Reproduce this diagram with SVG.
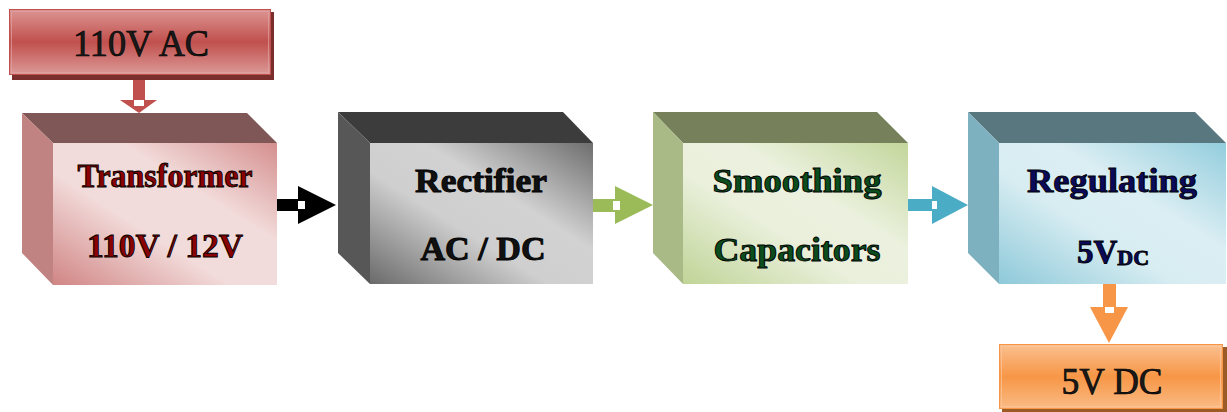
<svg xmlns="http://www.w3.org/2000/svg" width="1227" height="412" viewBox="0 0 1227 412">
<defs>
<linearGradient id="gRed" x1="0" y1="0" x2="0" y2="1">
<stop offset="0" stop-color="#dc9593"/><stop offset="0.5" stop-color="#c0504d"/><stop offset="1" stop-color="#dc9a98"/>
</linearGradient>
<linearGradient id="gOrange" x1="0" y1="0" x2="0" y2="1">
<stop offset="0" stop-color="#fac090"/><stop offset="0.5" stop-color="#f79646"/><stop offset="1" stop-color="#fabb85"/>
</linearGradient>
<linearGradient id="fPink" x1="1" y1="0" x2="0" y2="1">
<stop offset="0" stop-color="#d48f8e"/><stop offset="0.35" stop-color="#f2dcdb"/><stop offset="0.6" stop-color="#f2dcdb"/><stop offset="1" stop-color="#d08584"/>
</linearGradient>
<linearGradient id="fGray" x1="1" y1="0" x2="0" y2="1">
<stop offset="0" stop-color="#6e6e6e"/><stop offset="0.38" stop-color="#d2d2d2"/><stop offset="0.6" stop-color="#cfcfcf"/><stop offset="1" stop-color="#6a6a6a"/>
</linearGradient>
<linearGradient id="fGreen" x1="1" y1="0" x2="0" y2="1">
<stop offset="0" stop-color="#c3d69b"/><stop offset="0.38" stop-color="#ebf1de"/><stop offset="0.6" stop-color="#eaf0dc"/><stop offset="1" stop-color="#c0d497"/>
</linearGradient>
<linearGradient id="fBlue" x1="1" y1="0" x2="0" y2="1">
<stop offset="0" stop-color="#93cddd"/><stop offset="0.38" stop-color="#dbeef3"/><stop offset="0.6" stop-color="#d8edf2"/><stop offset="1" stop-color="#8ec9da"/>
</linearGradient>
</defs>
<style>
.lbl{font-family:"Liberation Serif","DejaVu Serif",serif;font-weight:bold;font-size:33px;text-anchor:middle;stroke:#000;stroke-width:0.9}
.big{font-family:"Liberation Serif","DejaVu Serif",serif;font-size:37px;text-anchor:middle;fill:#1a1a1a;stroke:#000;stroke-width:0.7}
.hole{fill:#ffffff}
</style>

<g id="connectors">
<g id="arrow-ac-transformer" fill="#c0504d">
<rect x="133" y="77" width="12" height="23"/>
<polygon points="120,100 157,100 139,113"/>
<rect class="hole" x="134" y="100" width="10" height="6"/>
</g>
<g id="arrow-transformer-rectifier" fill="#000000">
<rect x="277" y="199" width="21" height="12"/>
<polygon points="298,186 298,224 336,205"/>
<rect class="hole" x="298" y="201" width="7" height="8"/>
</g>
<g id="arrow-rectifier-smoothing" fill="#9bbb59">
<rect x="593" y="199" width="22" height="13"/>
<polygon points="615,186 615,224 653,205"/>
<rect class="hole" x="613" y="201" width="7" height="9"/>
</g>
<g id="arrow-smoothing-regulating" fill="#4bacc6">
<rect x="908" y="199" width="24" height="12"/>
<polygon points="932,186 932,224 968,205"/>
<rect class="hole" x="932" y="201" width="5" height="8"/>
</g>
<g id="arrow-regulating-out" fill="#f79646">
<rect x="1103" y="284" width="13" height="23"/>
<polygon points="1090,307 1128,307 1109,343"/>
<rect class="hole" x="1105" y="307" width="9" height="6"/>
</g>
</g>

<g id="node-110vac">
<rect x="12" y="12" width="262" height="68" fill="#7a2f2d"/>
<rect x="9.5" y="9.5" width="261" height="65" fill="url(#gRed)" stroke="#c0504d" stroke-width="1"/>
<rect x="11.5" y="11.5" width="257" height="61" fill="none" stroke="#e0a3a1" stroke-width="1" opacity="0.7"/>
<text class="big" x="141" y="56" textLength="136" lengthAdjust="spacingAndGlyphs">110V AC</text>
</g>

<g id="node-transformer">
<polygon points="22,113 247,113 277,143 53,143" fill="#7f5756"/>
<polygon points="22,113 53,143 53,285 22,253" fill="#c18382"/>
<rect x="53" y="143" width="224" height="142" fill="url(#fPink)"/>
<text class="lbl" x="165" y="187" fill="#8b0000" textLength="175" lengthAdjust="spacingAndGlyphs">Transformer</text>
<text class="lbl" x="165" y="257" fill="#8b0000" textLength="156" lengthAdjust="spacingAndGlyphs">110V / 12V</text>
</g>

<g id="node-rectifier">
<polygon points="338,112 563,112 593,143 370,143" fill="#3c3c3c"/>
<polygon points="338,112 370,143 370,284 338,253" fill="#575757"/>
<rect x="370" y="143" width="223" height="141" fill="url(#fGray)"/>
<text class="lbl" x="481" y="192" fill="#111" textLength="132" lengthAdjust="spacingAndGlyphs">Rectifier</text>
<text class="lbl" x="483" y="260" fill="#111" textLength="125" lengthAdjust="spacingAndGlyphs">AC / DC</text>
</g>

<g id="node-smoothing">
<polygon points="653,112 877,112 908,143 683,143" fill="#76805a"/>
<polygon points="653,112 683,143 683,284 653,253" fill="#a9ba86"/>
<rect x="683" y="143" width="225" height="141" fill="url(#fGreen)"/>
<text class="lbl" x="797" y="192" fill="#0b4d1c" textLength="169" lengthAdjust="spacingAndGlyphs">Smoothing</text>
<text class="lbl" x="797" y="261" fill="#0b4d1c" textLength="167" lengthAdjust="spacingAndGlyphs">Capacitors</text>
</g>

<g id="node-regulating">
<polygon points="968,112 1195,112 1226,143 999,143" fill="#58777f"/>
<polygon points="968,112 999,143 999,284 968,253" fill="#7eb1c0"/>
<rect x="999" y="143" width="227" height="141" fill="url(#fBlue)"/>
<text class="lbl" x="1112" y="192" fill="#0a0a5a" textLength="170" lengthAdjust="spacingAndGlyphs">Regulating</text>
<text class="lbl" x="1077" y="263" fill="#0a0a5a" style="text-anchor:start">5V<tspan font-size="22" dy="2">DC</tspan></text>
</g>

<g id="node-5vdc">
<rect x="1002" y="347" width="225" height="65" fill="#9c5a24"/>
<rect x="999.5" y="344.5" width="223" height="64" fill="url(#gOrange)" stroke="#f79646" stroke-width="1"/>
<rect x="1001.5" y="346.5" width="219" height="60" fill="none" stroke="#fbc8a0" stroke-width="1" opacity="0.7"/>
<text class="big" x="1112" y="394" textLength="101" lengthAdjust="spacingAndGlyphs">5V DC</text>
</g>
</svg>
